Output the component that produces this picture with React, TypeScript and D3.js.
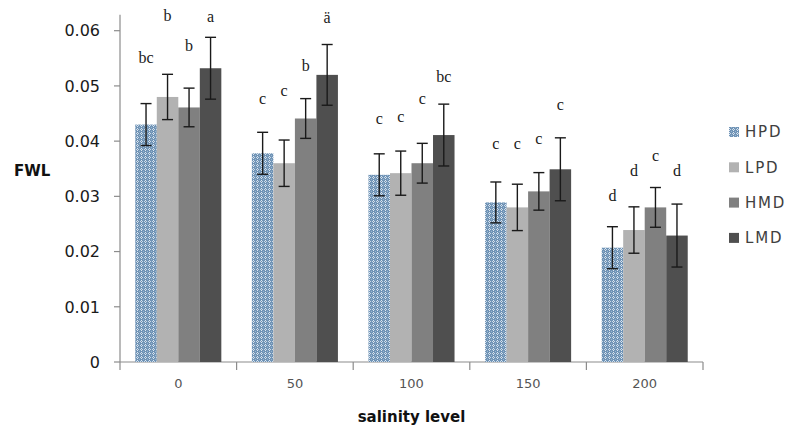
import React from "react";
import * as d3 from "d3";

const categories = ["0", "50", "100", "150", "200"];
const seriesNames = ["HPD", "LPD", "HMD", "LMD"];
const HPD = [0.043, 0.0378, 0.0339, 0.0289, 0.0207];
const LPD = [0.048, 0.036, 0.0342, 0.028, 0.0239];
const HMD = [0.0461, 0.0441, 0.036, 0.0309, 0.028];
const LMD = [0.0532, 0.052, 0.0411, 0.0349, 0.0229];
const HPDerr = [0.0038, 0.0038, 0.0038, 0.0037, 0.0038];
const LPDerr = [0.0041, 0.0042, 0.004, 0.0042, 0.0042];
const HMDerr = [0.0035, 0.0036, 0.0036, 0.0034, 0.0036];
const LMDerr = [0.0056, 0.0055, 0.0056, 0.0057, 0.0057];
const HPDletters = ["bc", "c", "c", "c", "d"];
const LPDletters = ["b", "c", "c", "c", "d"];
const HMDletters = ["b", "b", "c", "c", "c"];
const LMDletters = ["a", "ä", "bc", "c", "d"];
// heights (in FWL units) at which the significance letters sit
const HPDletterY = [0.0542, 0.0467, 0.0431, 0.0386, 0.0292];
const LPDletterY = [0.0618, 0.0482, 0.0435, 0.0386, 0.0337];
const HMDletterY = [0.0563, 0.0527, 0.0467, 0.0395, 0.0364];
const LMDletterY = [0.0616, 0.0614, 0.0507, 0.0457, 0.0337];
const yTicks = [0, 0.01, 0.02, 0.03, 0.04, 0.05, 0.06];

const values = [HPD, LPD, HMD, LMD];
const errs = [HPDerr, LPDerr, HMDerr, LMDerr];
const letters = [HPDletters, LPDletters, HMDletters, LMDletters];
const letterY = [HPDletterY, LPDletterY, HMDletterY, LMDletterY];
const fills = ["url(#hpdPattern)", "#b2b2b2", "#808080", "#4f4f4f"];

export default function App() {
  const W = 788, H = 432;
  const x0 = 120, x1 = 703;
  const y = d3.scaleLinear().domain([0, 0.06]).range([362, 30.7]);
  const x = d3.scaleBand<string>().domain(categories).range([x0, x1]).paddingInner(0).paddingOuter(0);
  const xs = d3.scaleBand<string>().domain(seriesNames).range([0, x.bandwidth()]).paddingInner(0).paddingOuter(0.71);
  const bw = xs.bandwidth();
  const sans = "'DejaVu Sans', sans-serif";
  const serif = "'Liberation Serif', 'Times New Roman', serif";
  const axisColor = "#8c8c8c";
  const boundaries = [...categories.map((c) => x(c)!), x1];

  return (
    <svg width={W} height={H} style={{ position: "absolute", left: 0, top: 0, background: "#fff" }}>
      <defs>
        <pattern id="hpdPattern" width="4" height="4" patternUnits="userSpaceOnUse">
          <rect width="4" height="4" fill="#6f93b6" />
          <rect x="1" y="0" width="1" height="1" fill="#dfe8f1" />
          <rect x="0" y="1" width="1" height="1" fill="#c9d8e6" />
          <rect x="2" y="1" width="1" height="1" fill="#c9d8e6" />
          <rect x="1" y="2" width="1" height="1" fill="#dfe8f1" />
          <rect x="3" y="3" width="1" height="1" fill="#9bb5cd" />
        </pattern>
      </defs>

      {/* y axis */}
      <line x1={x0} x2={x0} y1={y(0)} y2={y(0.0629)} stroke={axisColor} strokeWidth={1.2} />
      {yTicks.map((t) => (
        <g key={t}>
          <line x1={x0 - 6} x2={x0} y1={y(t)} y2={y(t)} stroke={axisColor} strokeWidth={1.2} />
          <text x={100} y={y(t)} dy="0.36em" textAnchor="end" fontFamily={sans} fontSize={16} fill="#1a1a1a">
            {t === 0 ? "0" : t.toFixed(2)}
          </text>
        </g>
      ))}

      {/* x axis */}
      <line x1={x0} x2={x1} y1={y(0)} y2={y(0)} stroke={axisColor} strokeWidth={1.2} />
      {boundaries.map((b, i) => (
        <line key={i} x1={b} x2={b} y1={y(0)} y2={y(0) + 8} stroke={axisColor} strokeWidth={1.2} />
      ))}
      {categories.map((c) => (
        <text key={c} x={x(c)! + x.bandwidth() / 2} y={388} textAnchor="middle" fontFamily={sans} fontSize={13} fill="#555">
          {c}
        </text>
      ))}

      {/* bars */}
      {seriesNames.map((s, si) =>
        categories.map((c, ci) => {
          const bx = x(c)! + xs(s)!;
          const v = values[si][ci];
          return (
            <rect key={s + c} x={bx} y={y(v)} width={bw} height={y(0) - y(v)} fill={fills[si]} />
          );
        })
      )}

      {/* error bars */}
      {seriesNames.map((s, si) =>
        categories.map((c, ci) => {
          const cx = x(c)! + xs(s)! + bw / 2;
          const v = values[si][ci];
          const e = errs[si][ci];
          const cap = 5.5;
          return (
            <g key={"e" + s + c} stroke="#1a1a1a" strokeWidth={1.4}>
              <line x1={cx} x2={cx} y1={y(v + e)} y2={y(v - e)} />
              <line x1={cx - cap} x2={cx + cap} y1={y(v + e)} y2={y(v + e)} />
              <line x1={cx - cap} x2={cx + cap} y1={y(v - e)} y2={y(v - e)} />
            </g>
          );
        })
      )}

      {/* significance letters */}
      {seriesNames.map((s, si) =>
        categories.map((c, ci) => {
          const cx = x(c)! + xs(s)! + bw / 2;
          return (
            <text key={"l" + s + c} x={cx} y={y(letterY[si][ci])} textAnchor="middle" fontFamily={serif} fontSize={16} fill="#1a1a1a">
              {letters[si][ci]}
            </text>
          );
        })
      )}

      {/* axis titles */}
      <text x={14} y={171} dy="0.36em" fontFamily={sans} fontWeight="bold" fontSize={15} fill="#111">FWL</text>
      <text x={(x0 + x1) / 2} y={422} textAnchor="middle" fontFamily={sans} fontWeight="bold" fontSize={15} fill="#111">
        salinity level
      </text>

      {/* legend */}
      {seriesNames.map((s, i) => {
        const ly = 132 + i * 35.3;
        return (
          <g key={"lg" + s}>
            <rect x={729} y={ly - 5} width={10} height={10} fill={fills[i]} />
            <text x={745} y={ly} dy="0.36em" fontFamily={sans} fontSize={15} letterSpacing={1.8} fill="#404040">
              {s}
            </text>
          </g>
        );
      })}
    </svg>
  );
}
